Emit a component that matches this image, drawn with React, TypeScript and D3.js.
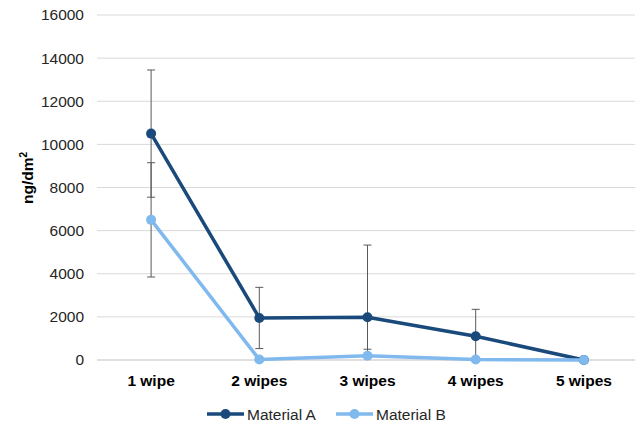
import React, { useEffect, useRef } from 'react';
import * as d3 from 'd3';

const categories = ['1 wipe', '2 wipes', '3 wipes', '4 wipes', '5 wipes'];
const materialA = [10500, 1950, 1980, 1100, 0];
const materialAErr = [2950, 1420, 3350, 1250, 0];
const materialB = [6500, 20, 200, 20, 0];
const materialBErr = [2650, 0, 300, 0, 0];
const yTicks = [0, 2000, 4000, 6000, 8000, 10000, 12000, 14000, 16000];

const series = [
  { name: 'Material A', values: materialA, err: materialAErr, color: '#1a4a7b' },
  { name: 'Material B', values: materialB, err: materialBErr, color: '#80b9ee' },
];

export default function App() {
  const ref = useRef<SVGSVGElement>(null);

  useEffect(() => {
    const w = 635;
    const h = 432;
    const margin = { top: 15, right: -3, bottom: 72, left: 97 };
    const font = 'Liberation Sans, Arial, sans-serif';
    const fs = 15.5;

    const svg = d3.select(ref.current);
    svg.selectAll('*').remove();

    const x = d3.scaleBand()
      .domain(categories)
      .range([margin.left, w - margin.right]);

    const y = d3.scaleLinear()
      .domain([0, 16000])
      .range([h - margin.bottom, margin.top]);

    const cx = (i: number) => (x(categories[i]) as number) + x.bandwidth() / 2;

    // gridlines
    svg.append('g')
      .selectAll('line')
      .data(yTicks)
      .join('line')
      .attr('x1', margin.left)
      .attr('x2', w)
      .attr('y1', d => y(d))
      .attr('y2', d => y(d))
      .attr('stroke', d => (d === 0 ? '#bfbfbf' : '#d9d9d9'))
      .attr('stroke-width', 1);

    svg.append('g')
      .selectAll('text')
      .data(yTicks)
      .join('text')
      .attr('x', 84)
      .attr('y', d => y(d))
      .attr('dy', '0.35em')
      .attr('text-anchor', 'end')
      .attr('font-family', font)
      .attr('font-size', fs)
      .attr('fill', '#262626')
      .text(d => d);

    svg.append('g')
      .selectAll('text')
      .data(categories)
      .join('text')
      .attr('x', (d, i) => cx(i))
      .attr('y', 386)
      .attr('text-anchor', 'middle')
      .attr('font-family', font)
      .attr('font-size', fs)
      .attr('font-weight', 'bold')
      .attr('fill', '#000')
      .text(d => d);

    const title = svg.append('text')
      .attr('transform', 'translate(33,178) rotate(-90)')
      .attr('text-anchor', 'middle')
      .attr('font-family', font)
      .attr('font-size', fs)
      .attr('font-weight', 'bold')
      .attr('fill', '#000');
    title.append('tspan').text('ng/dm');
    title.append('tspan')
      .attr('font-size', fs * 0.65)
      .attr('dy', -6)
      .text('2');

    // clip to plot area
    svg.append('clipPath')
      .attr('id', 'plotclip')
      .append('rect')
      .attr('x', margin.left)
      .attr('y', margin.top)
      .attr('width', w - margin.left)
      .attr('height', y(0) - margin.top);

    const line = d3.line<number>()
      .x((d, i) => cx(i))
      .y(d => y(d));

    series.forEach(s => {
      svg.append('path')
        .datum(s.values)
        .attr('d', line)
        .attr('fill', 'none')
        .attr('stroke', s.color)
        .attr('stroke-width', 3.5)
        .attr('stroke-linejoin', 'round');
    });

    // error bars
    series.forEach(s => {
      const eg = svg.append('g').attr('clip-path', 'url(#plotclip)');
      s.values.forEach((v, i) => {
        const e = s.err[i];
        if (!e) return;
        const x0 = cx(i);
        eg.append('line')
          .attr('x1', x0).attr('x2', x0)
          .attr('y1', y(v + e)).attr('y2', y(v - e))
          .attr('stroke', '#595959').attr('stroke-width', 1);
        [v + e, v - e].forEach(t => {
          eg.append('line')
            .attr('x1', x0 - 4).attr('x2', x0 + 4)
            .attr('y1', y(t)).attr('y2', y(t))
            .attr('stroke', '#595959').attr('stroke-width', 1);
        });
      });
    });

    series.forEach(s => {
      svg.append('g')
        .selectAll('circle')
        .data(s.values)
        .join('circle')
        .attr('cx', (d, i) => cx(i))
        .attr('cy', d => y(d))
        .attr('r', 5)
        .attr('fill', s.color);
    });

    // legend
    const lx = [207, 336];
    series.forEach((s, i) => {
      const g = svg.append('g').attr('transform', `translate(${lx[i]},414)`);
      g.append('line')
        .attr('x1', 0).attr('x2', 37).attr('y1', 0).attr('y2', 0)
        .attr('stroke', s.color).attr('stroke-width', 3.5);
      g.append('circle').attr('cx', 18.5).attr('cy', 0).attr('r', 5).attr('fill', s.color);
      g.append('text')
        .attr('x', 40).attr('y', 5.5)
        .attr('font-family', font).attr('font-size', fs)
        .attr('fill', '#262626')
        .text(s.name);
    });
  }, []);

  return (
    <svg ref={ref} width={635} height={432}
      style={{ position: 'absolute', left: 0, top: 0, background: '#fff' }} />
  );
}
